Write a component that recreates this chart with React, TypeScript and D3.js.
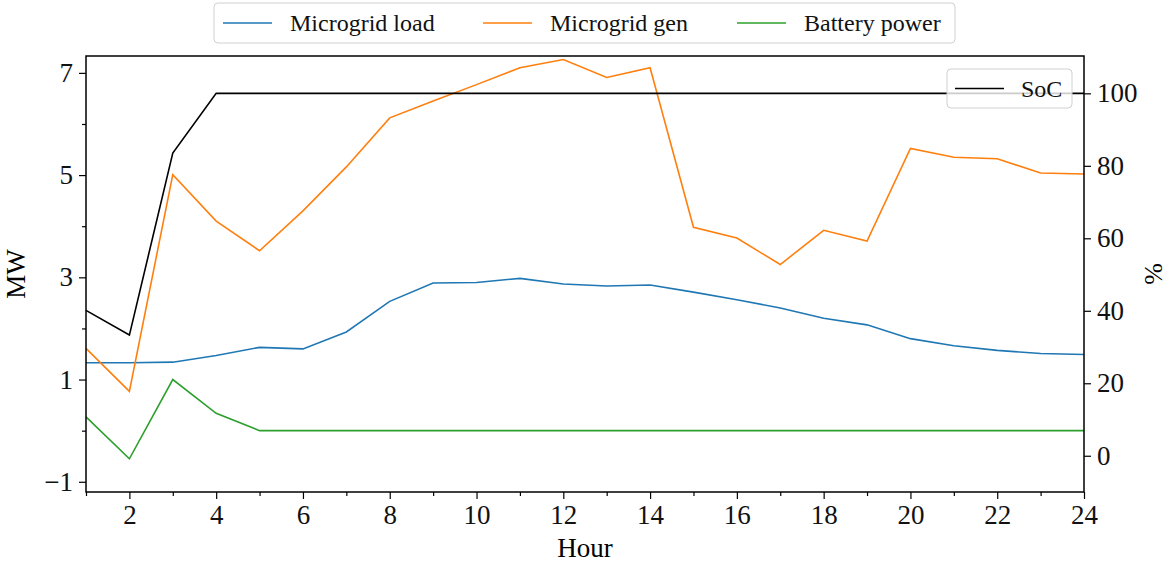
import { useEffect, useRef } from "react"
import * as d3 from "d3"

const hours = d3.range(1, 25)
const microgridLoad = [1.33, 1.33, 1.34, 1.47, 1.63, 1.6, 1.93, 2.53, 2.89, 2.9, 2.98, 2.87, 2.83, 2.85, 2.71, 2.56, 2.4, 2.2, 2.07, 1.8, 1.66, 1.57, 1.51, 1.49]
const microgridGen = [1.61, 0.77, 5.01, 4.1, 3.52, 4.3, 5.16, 6.12, 6.45, 6.77, 7.1, 7.26, 6.91, 7.1, 3.98, 3.77, 3.25, 3.92, 3.71, 5.52, 5.35, 5.32, 5.04, 5.02]
const batteryPower = [0.27, -0.55, 1.0, 0.34, 0, 0, 0, 0, 0, 0, 0, 0, 0, 0, 0, 0, 0, 0, 0, 0, 0, 0, 0, 0]
const soc = [40.1, 33.3, 83.5, 100, 100, 100, 100, 100, 100, 100, 100, 100, 100, 100, 100, 100, 100, 100, 100, 100, 100, 100, 100, 100]

const mwTicks = [-1, 1, 3, 5, 7]
const mwMinor = [0, 2, 4, 6]
const pctTicks = [0, 20, 40, 60, 80, 100]
const hourTicks = [2, 4, 6, 8, 10, 12, 14, 16, 18, 20, 22, 24]
const hourMinor = [1, 3, 5, 7, 9, 11, 13, 15, 17, 19, 21, 23]

const leftSeries = [
  { name: "Microgrid load", values: microgridLoad, color: "#1f77b4" },
  { name: "Microgrid gen", values: microgridGen, color: "#ff7f0e" },
  { name: "Battery power", values: batteryPower, color: "#2ca02c" },
]

const FONT = "'Liberation Serif', 'Times New Roman', serif"
const W = 1169
const H = 563

const App = () => {
  const svgRef = useRef<SVGSVGElement | null>(null)

  useEffect(() => {
    document.body.style.margin = "0"
    const margin = { top: 56, right: 85, bottom: 71, left: 86 }
    const svg = d3.select(svgRef.current)
    svg.selectAll("*").remove()

    const x = d3.scaleLinear().domain([1, 24]).range([margin.left, W - margin.right])
    const yL = d3.scaleLinear().domain([-1.2, 7.33]).range([H - margin.bottom, margin.top])
    const yR = d3.scaleLinear().domain([-10, 110.3]).range([H - margin.bottom, margin.top])

    const minus = (v: number) => (v < 0 ? `\u2212${Math.abs(v)}` : `${v}`)

    const styleAxis = (g: any) => {
      g.attr("font-family", FONT)
      g.select(".domain").remove()
      g.selectAll("line").attr("stroke", "#000").attr("stroke-width", 1.2)
      g.selectAll("text").attr("font-family", FONT).attr("font-size", 27).attr("fill", "#111")
    }

    // lines
    const line = (ys: any) =>
      d3
        .line<number>()
        .x((_, i) => x(hours[i]))
        .y((d) => ys(d))

    leftSeries.forEach((s) => {
      svg
        .append("path")
        .attr("d", line(yL)(s.values))
        .attr("fill", "none")
        .attr("stroke", s.color)
        .attr("stroke-width", 1.6)
    })

    svg
      .append("path")
      .attr("d", line(yR)(soc))
      .attr("fill", "none")
      .attr("stroke", "#000")
      .attr("stroke-width", 1.6)

    // axes
    svg
      .append("g")
      .attr("transform", `translate(0,${H - margin.bottom})`)
      .call(d3.axisBottom(x).tickValues(hourTicks).tickSize(7).tickPadding(6).tickFormat((d) => `${d}`))
      .call(styleAxis)
    svg
      .append("g")
      .attr("transform", `translate(0,${H - margin.bottom})`)
      .call(d3.axisBottom(x).tickValues(hourMinor).tickSize(4).tickFormat(() => ""))
      .call(styleAxis)

    svg
      .append("g")
      .attr("transform", `translate(${margin.left},0)`)
      .call(d3.axisLeft(yL).tickValues(mwTicks).tickSize(7).tickPadding(6).tickFormat((d) => minus(Number(d))))
      .call(styleAxis)
    svg
      .append("g")
      .attr("transform", `translate(${margin.left},0)`)
      .call(d3.axisLeft(yL).tickValues(mwMinor).tickSize(4).tickFormat(() => ""))
      .call(styleAxis)

    svg
      .append("g")
      .attr("transform", `translate(${W - margin.right},0)`)
      .call(d3.axisRight(yR).tickValues(pctTicks).tickSize(7).tickPadding(6).tickFormat((d) => `${d}`))
      .call(styleAxis)

    // frame
    svg
      .append("rect")
      .attr("x", margin.left)
      .attr("y", margin.top)
      .attr("width", W - margin.left - margin.right)
      .attr("height", H - margin.top - margin.bottom)
      .attr("fill", "none")
      .attr("stroke", "#000")
      .attr("stroke-width", 1.5)

    // axis labels
    svg
      .append("text")
      .attr("x", (margin.left + W - margin.right) / 2)
      .attr("y", 557)
      .attr("text-anchor", "middle")
      .attr("font-family", FONT)
      .attr("font-size", 27)
      .text("Hour")
    svg
      .append("text")
      .attr("transform", `translate(25,${(margin.top + H - margin.bottom) / 2}) rotate(-90)`)
      .attr("text-anchor", "middle")
      .attr("font-family", FONT)
      .attr("font-size", 27)
      .text("MW")
    svg
      .append("text")
      .attr("transform", `translate(1162,${(margin.top + H - margin.bottom) / 2}) rotate(-90)`)
      .attr("text-anchor", "middle")
      .attr("font-family", FONT)
      .attr("font-size", 26)
      .text("%")

    // top legend
    const lg = svg.append("g")
    lg.append("rect")
      .attr("x", 214)
      .attr("y", 3)
      .attr("width", 741)
      .attr("height", 40)
      .attr("rx", 4)
      .attr("fill", "white")
      .attr("fill-opacity", 0.8)
      .attr("stroke", "#d0d0d0")
    const handleX = [223, 483, 737]
    leftSeries.forEach((s, i) => {
      lg.append("line")
        .attr("x1", handleX[i])
        .attr("x2", handleX[i] + 49)
        .attr("y1", 23)
        .attr("y2", 23)
        .attr("stroke", s.color)
        .attr("stroke-width", 1.6)
      lg.append("text")
        .attr("x", handleX[i] + 67)
        .attr("y", 31)
        .attr("font-family", FONT)
        .attr("font-size", 24)
        .attr("fill", "#111")
        .text(s.name)
    })

    // SoC legend
    const rg = svg.append("g")
    rg.append("rect")
      .attr("x", 947)
      .attr("y", 69)
      .attr("width", 125)
      .attr("height", 39)
      .attr("rx", 4)
      .attr("fill", "white")
      .attr("fill-opacity", 0.8)
      .attr("stroke", "#d0d0d0")
    rg.append("line")
      .attr("x1", 955)
      .attr("x2", 1004)
      .attr("y1", 88.5)
      .attr("y2", 88.5)
      .attr("stroke", "#000")
      .attr("stroke-width", 1.6)
    rg.append("text")
      .attr("x", 1021)
      .attr("y", 96.5)
      .attr("font-family", FONT)
      .attr("font-size", 24)
      .attr("fill", "#111")
      .text("SoC")
  }, [])

  return <svg ref={svgRef} width={W} height={H} style={{ display: "block", background: "white" }} />
}

export default App
